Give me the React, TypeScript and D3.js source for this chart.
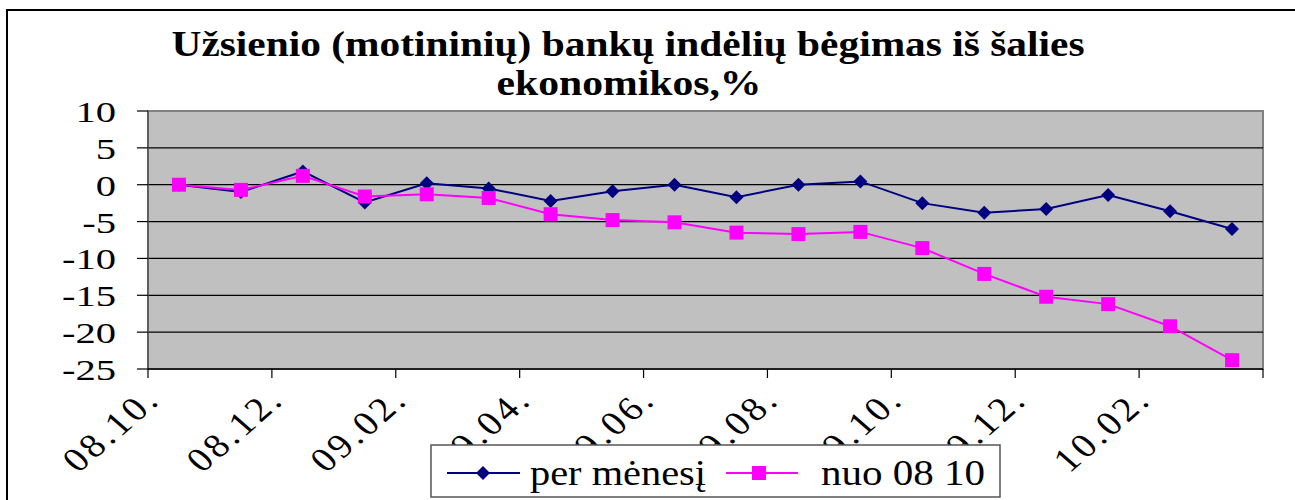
import React, { useEffect, useRef } from 'react';
import * as d3 from 'd3';

const months = [
  '08.10', '08.11', '08.12', '09.01', '09.02', '09.03', '09.04', '09.05', '09.06',
  '09.07', '09.08', '09.09', '09.10', '09.11', '09.12', '10.01', '10.02', '10.03',
];
const perMenesi = [0, -1.0, 1.8, -2.4, 0.2, -0.5, -2.2, -0.9, 0, -1.7, 0, 0.45, -2.5, -3.8, -3.3, -1.4, -3.6, -6.0];
const nuo0810 = [0, -0.7, 1.2, -1.6, -1.3, -1.8, -4.0, -4.8, -5.1, -6.5, -6.7, -6.4, -8.6, -12.1, -15.2, -16.2, -19.2, -23.8];
const yTicks = [10, 5, 0, -5, -10, -15, -20, -25];
const titleLines = ['Užsienio (motininių) bankų indėlių bėgimas iš šalies', 'ekonomikos,%'];
const seriesNames = ['per mėnesį', 'nuo 08 10'];

const NAVY = '#000080';
const MAGENTA = '#FF00FF';
const FONT = "'Liberation Serif', 'Times New Roman', Times, serif";

const App = () => {
  const ref = useRef(null);

  useEffect(() => {
    const svg = d3.select(ref.current);
    svg.selectAll('*').remove();

    const left = 148, right = 1263, top = 111, bottom = 369;

    const x = d3.scaleBand().domain(months).range([left, right]).padding(0);
    const y = d3.scaleLinear().domain([-25, 10]).range([bottom, top]);
    const cx = d => x(d) + x.bandwidth() / 2;

    // chart area border
    svg.append('rect')
      .attr('x', 7).attr('y', 10).attr('width', 1300).attr('height', 500)
      .attr('fill', '#fff').attr('stroke', '#000').attr('stroke-width', 2);

    // title
    svg.append('text')
      .attr('x', 628).attr('y', 56)
      .attr('text-anchor', 'middle')
      .style('font-family', FONT).attr('font-weight', 'bold').attr('font-size', 35)
      .attr('textLength', 913).attr('lengthAdjust', 'spacingAndGlyphs')
      .text(titleLines[0]);
    svg.append('text')
      .attr('x', 629).attr('y', 95)
      .attr('text-anchor', 'middle')
      .style('font-family', FONT).attr('font-weight', 'bold').attr('font-size', 35)
      .attr('textLength', 265).attr('lengthAdjust', 'spacingAndGlyphs')
      .text(titleLines[1]);

    // plot area
    svg.append('rect')
      .attr('x', left).attr('y', top).attr('width', right - left).attr('height', bottom - top)
      .attr('fill', '#C0C0C0').attr('stroke', '#808080').attr('stroke-width', 2);

    // gridlines
    svg.append('g')
      .selectAll('line')
      .data(yTicks.filter(v => v !== 10 && v !== -25))
      .enter()
      .append('line')
      .attr('x1', left).attr('x2', right)
      .attr('y1', d => y(d)).attr('y2', d => y(d))
      .attr('stroke', '#000').attr('stroke-width', 1.2);

    // y axis
    svg.append('line')
      .attr('x1', left).attr('x2', left).attr('y1', top).attr('y2', bottom)
      .attr('stroke', '#555').attr('stroke-width', 1.5);
    svg.append('g')
      .selectAll('line')
      .data(yTicks)
      .enter()
      .append('line')
      .attr('x1', 137).attr('x2', left)
      .attr('y1', d => y(d)).attr('y2', d => y(d))
      .attr('stroke', '#000').attr('stroke-width', 1.2);
    svg.append('g')
      .selectAll('text')
      .data(yTicks)
      .enter()
      .append('text')
      .attr('transform', d => `translate(116,${y(d) + 11}) scale(1.4,1)`)
      .attr('text-anchor', 'end')
      .style('font-family', FONT).attr('font-size', 29)
      .text(d => d);

    // x axis
    svg.append('line')
      .attr('x1', left).attr('x2', right).attr('y1', bottom).attr('y2', bottom)
      .attr('stroke', '#000').attr('stroke-width', 1.5);
    const tickPos = months.filter((m, i) => i % 2 === 0).map(m => x(m)).concat([right]);
    svg.append('g')
      .selectAll('line')
      .data(tickPos)
      .enter()
      .append('line')
      .attr('x1', d => d).attr('x2', d => d).attr('y1', bottom).attr('y2', bottom + 9)
      .attr('stroke', '#000').attr('stroke-width', 1.2);
    svg.append('g')
      .selectAll('text')
      .data(months.filter((m, i) => i % 2 === 0))
      .enter()
      .append('text')
      .attr('transform', d => `translate(${x(d) + 14},401) scale(1.15,1) rotate(-45)`)
      .attr('text-anchor', 'end')
      .attr('letter-spacing', 3)
      .style('font-family', FONT).attr('font-size', 34)
      .text(d => d + '.');

    // lines
    const line = d3.line().x((d, i) => cx(months[i])).y(d => y(d));
    svg.append('path').datum(perMenesi)
      .attr('d', line).attr('fill', 'none').attr('stroke', NAVY).attr('stroke-width', 2);
    svg.append('path').datum(nuo0810)
      .attr('d', line).attr('fill', 'none').attr('stroke', MAGENTA).attr('stroke-width', 2);

    const diamond = d3.symbol().type(d3.symbolDiamond2).size(125);
    svg.append('g')
      .selectAll('path')
      .data(perMenesi)
      .enter()
      .append('path')
      .attr('d', diamond)
      .attr('transform', (d, i) => `translate(${cx(months[i])},${y(d)})`)
      .attr('fill', NAVY);

    svg.append('g')
      .selectAll('rect')
      .data(nuo0810)
      .enter()
      .append('rect')
      .attr('x', (d, i) => cx(months[i]) - 7)
      .attr('y', d => y(d) - 7)
      .attr('width', 14).attr('height', 14)
      .attr('fill', MAGENTA);

    // legend
    const lg = svg.append('g');
    lg.append('rect')
      .attr('x', 431).attr('y', 445).attr('width', 569).attr('height', 52)
      .attr('fill', '#fff').attr('stroke', '#555').attr('stroke-width', 1.5);
    lg.append('line').attr('x1', 447).attr('x2', 520).attr('y1', 473).attr('y2', 473)
      .attr('stroke', NAVY).attr('stroke-width', 2);
    lg.append('path').attr('d', diamond).attr('transform', 'translate(483,473)').attr('fill', NAVY);
    lg.append('text')
      .attr('x', 530).attr('y', 485)
      .style('font-family', FONT).attr('font-size', 35)
      .attr('textLength', 176).attr('lengthAdjust', 'spacingAndGlyphs')
      .text(seriesNames[0]);
    lg.append('line').attr('x1', 726).attr('x2', 798).attr('y1', 473).attr('y2', 473)
      .attr('stroke', MAGENTA).attr('stroke-width', 2);
    lg.append('rect').attr('x', 752).attr('y', 466).attr('width', 14).attr('height', 14).attr('fill', MAGENTA);
    lg.append('text')
      .attr('x', 821).attr('y', 485)
      .style('font-family', FONT).attr('font-size', 35)
      .attr('textLength', 164).attr('lengthAdjust', 'spacingAndGlyphs')
      .text(seriesNames[1]);
  }, []);

  return (
    <svg ref={ref} width={1295} height={500}
      style={{ position: 'absolute', left: 0, top: 0, background: '#fff' }} />
  );
};

export default App;
